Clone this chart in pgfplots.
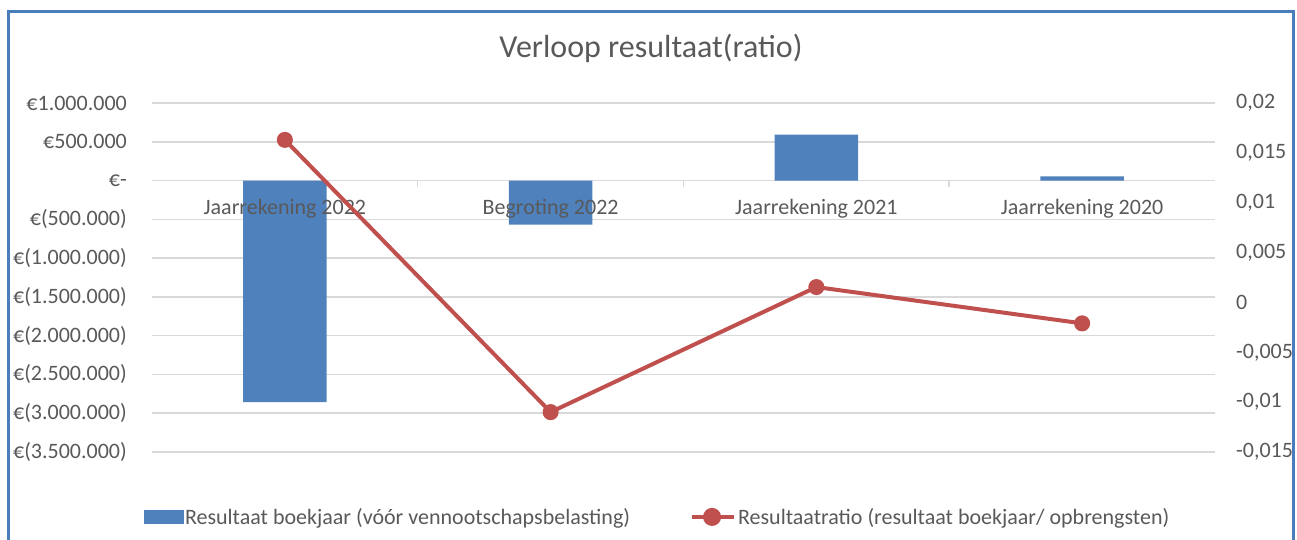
\documentclass[border=0pt]{standalone}
\usepackage{pgfplots}
\pgfplotsset{compat=1.18}
\usepackage{fontspec}
\setmainfont{Carlito}
\definecolor{barblue}{HTML}{4F81BD}
\definecolor{linered}{HTML}{C0504D}
\definecolor{gridgray}{HTML}{D9D9D9}
\definecolor{txtgray}{HTML}{595959}
\definecolor{frameblue}{HTML}{4A7EBB}
\begin{document}
\begin{tikzpicture}[x=1bp,y=1bp]
\path[use as bounding box] (0,0) rectangle (1297,540);
\draw[frameblue, line width=3bp] (8.5,0) -- (8.5,528) -- (1293.5,528) -- (1293.5,0);
\node[txtgray, font=\fontsize{32bp}{38bp}\selectfont] at (651,492) {Verloop resultaat(ratio)};
\begin{axis}[
  at={(152bp,88bp)}, anchor=south west,
  width=1063bp, height=349bp, scale only axis,
  xmin=-0.5, xmax=3.5,
  ymin=-3500000, ymax=1000000,
  axis x line*=middle, axis y line*=left,
  y axis line style={draw=none},
  x axis line style={draw=gridgray, line width=1.5bp},
  ymajorgrids, grid style={draw=gridgray, line width=1.5bp},
  scaled y ticks=false,
  ytick={-3500000,-3000000,-2500000,-2000000,-1500000,-1000000,-500000,0,500000,1000000},
  yticklabels={{€(3.500.000)},{€(3.000.000)},{€(2.500.000)},{€(2.000.000)},{€(1.500.000)},{€(1.000.000)},{€(500.000)},{€-},{€500.000},{€1.000.000}},
  ytick style={draw=none},
  xtick={0.5,1.5,2.5},
  xticklabels={},
  major tick length=6bp,
  xtick style={draw=gridgray, line width=1.5bp},
  xtick align=outside,
  tick label style={font=\fontsize{22bp}{26bp}\selectfont, text=txtgray},
  yticklabel style={anchor=east, inner sep=0pt, xshift=-25bp},
  clip=false,
]
\addplot[ybar, bar width=83.4bp, fill=barblue, draw=none] coordinates {(0,-2857000) (1,-567000) (2,593000) (3,55000)};
\end{axis}
\begin{axis}[
  at={(152bp,88bp)}, anchor=south west,
  width=1063bp, height=349bp, scale only axis,
  xmin=-0.5, xmax=3.5,
  ymin=-0.015, ymax=0.02,
  axis y line*=right, axis x line*=bottom,
  y axis line style={draw=none},
  x axis line style={draw=none},
  scaled y ticks=false,
  ytick={-0.015,-0.01,-0.005,0,0.005,0.01,0.015,0.02},
  yticklabels={{-0,015},{-0,01},{-0,005},{0},{0,005},{0,01},{0,015},{0,02}},
  xtick={0,1,2,3},
  xticklabels={Jaarrekening 2022,Begroting 2022,Jaarrekening 2021,Jaarrekening 2020},
  tick style={draw=none},
  major tick length=0pt,
  tick label style={font=\fontsize{22bp}{26bp}\selectfont, text=txtgray},
  yticklabel style={anchor=west, inner sep=0pt, xshift=21bp},
  xticklabel style={anchor=north, inner sep=0pt, yshift=253bp},
  legend columns=2,
  legend style={at={(0.4755,-0.186)}, anchor=center, draw=none, fill=none,
    font=\fontsize{22bp}{26bp}\selectfont, text=txtgray,
    /tikz/every even column/.append style={column sep=58bp}},
  legend entries={{Resultaat boekjaar (vóór vennootschapsbelasting)},{Resultaatratio (resultaat boekjaar/ opbrengsten)}},
  clip=false,
]
\addlegendimage{legend image code/.code={\fill[barblue] (0bp,-6.5bp) rectangle (39bp,6.5bp);}}
\addplot[linered, line width=4bp, mark=*, mark size=6bp, mark options={fill=linered, draw=linered},
  legend image code/.code={\draw[linered, line width=4bp] (0bp,0bp) -- (42bp,0bp); \fill[linered] (20bp,0bp) circle (7bp);}]
  coordinates {(0,0.0163) (1,-0.011) (2,0.00154) (3,-0.0021)};
\end{axis}
\end{tikzpicture}
\end{document}
